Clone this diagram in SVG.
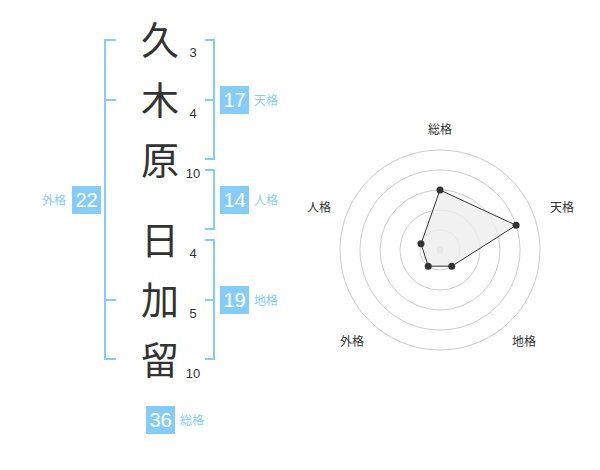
<svg xmlns="http://www.w3.org/2000/svg" width="600" height="470" viewBox="0 0 600 470">
<style>
.ch{font-family:"Noto Sans CJK JP","Noto Sans CJK SC",sans-serif;font-size:38px;fill:#333;text-anchor:middle}
.st{font-family:"Liberation Sans",Arial,sans-serif;font-size:13px;fill:#333;text-anchor:middle}
.br{fill:none;stroke:#85cdf8;stroke-width:2}
.bx{fill:#85cdf8}
.bn{font-family:"Liberation Sans",Arial,sans-serif;font-size:20px;fill:#fff;text-anchor:middle}
.bl{font-family:"Noto Sans CJK JP","Noto Sans CJK SC",sans-serif;font-size:12px;fill:#85cdf8}
.rl{font-family:"Noto Sans CJK JP","Noto Sans CJK SC",sans-serif;font-size:12px;fill:#333;text-anchor:middle}
.ring{fill:none;stroke:#ccc;stroke-width:1}
</style>
<rect width="600" height="470" fill="#fff"/>
<g id="name-chars">
<text class="ch" x="160" y="54">久</text>
<text class="ch" x="160" y="114">木</text>
<text class="ch" x="160" y="174">原</text>
<text class="ch" x="160" y="254">日</text>
<text class="ch" x="160" y="314">加</text>
<text class="ch" x="160" y="374">留</text>
</g>
<g id="strokes">
<text class="st" x="193" y="57">3</text>
<text class="st" x="193" y="118">4</text>
<text class="st" x="193" y="178">10</text>
<text class="st" x="193" y="258">4</text>
<text class="st" x="193" y="318">5</text>
<text class="st" x="193" y="378">10</text>
</g>
<g id="connectors">
<path class="br" d="M116,40 H105 V359 H116 M105,100 H116 M105,300 H116"/>
<path class="br" d="M205,40 H214 V159 H205 M214,100 H205"/>
<path class="br" d="M205,170 H214 V229 H205"/>
<path class="br" d="M205,240 H214 V359 H205 M214,300 H205"/>
</g>
<g id="tenkaku">
<rect class="bx" x="220" y="86" width="29" height="28"/>
<text class="bn" x="234.5" y="107">17</text>
<text class="bl" x="254" y="105">天格</text>
</g>
<g id="jinkaku">
<rect class="bx" x="220" y="186" width="29" height="28"/>
<text class="bn" x="234.5" y="207">14</text>
<text class="bl" x="254" y="205">人格</text>
</g>
<g id="chikaku">
<rect class="bx" x="220" y="286" width="29" height="28"/>
<text class="bn" x="234.5" y="307">19</text>
<text class="bl" x="254" y="305">地格</text>
</g>
<g id="gaikaku">
<rect class="bx" x="72" y="186" width="29" height="28"/>
<text class="bn" x="86.5" y="207">22</text>
<text class="bl" x="66" y="205" text-anchor="end">外格</text>
</g>
<g id="soukaku">
<rect class="bx" x="146" y="406" width="29" height="28"/>
<text class="bn" x="160.5" y="427">36</text>
<text class="bl" x="180" y="425">総格</text>
</g>
<g id="radar">
<circle class="ring" cx="440" cy="250" r="20"/>
<circle class="ring" cx="440" cy="250" r="40"/>
<circle class="ring" cx="440" cy="250" r="60"/>
<circle class="ring" cx="440" cy="250" r="80"/>
<circle class="ring" cx="440" cy="250" r="100"/>
<circle cx="440" cy="250" r="3.5" fill="#ccc"/>
<polygon points="440,190 516.1,225.3 451.8,266.2 428.2,266.2 421,243.8" fill="#eee" fill-opacity="0.8" stroke="#333" stroke-width="1"/>
<g fill="#333">
<circle cx="440" cy="190" r="3.5"/>
<circle cx="516.1" cy="225.3" r="3.5"/>
<circle cx="451.8" cy="266.2" r="3.5"/>
<circle cx="428.2" cy="266.2" r="3.5"/>
<circle cx="421" cy="243.8" r="3.5"/>
</g>
<text class="rl" x="440" y="134">総格</text>
<text class="rl" x="562" y="212">天格</text>
<text class="rl" x="524" y="346">地格</text>
<text class="rl" x="352" y="346">外格</text>
<text class="rl" x="319" y="212">人格</text>
</g>
</svg>
